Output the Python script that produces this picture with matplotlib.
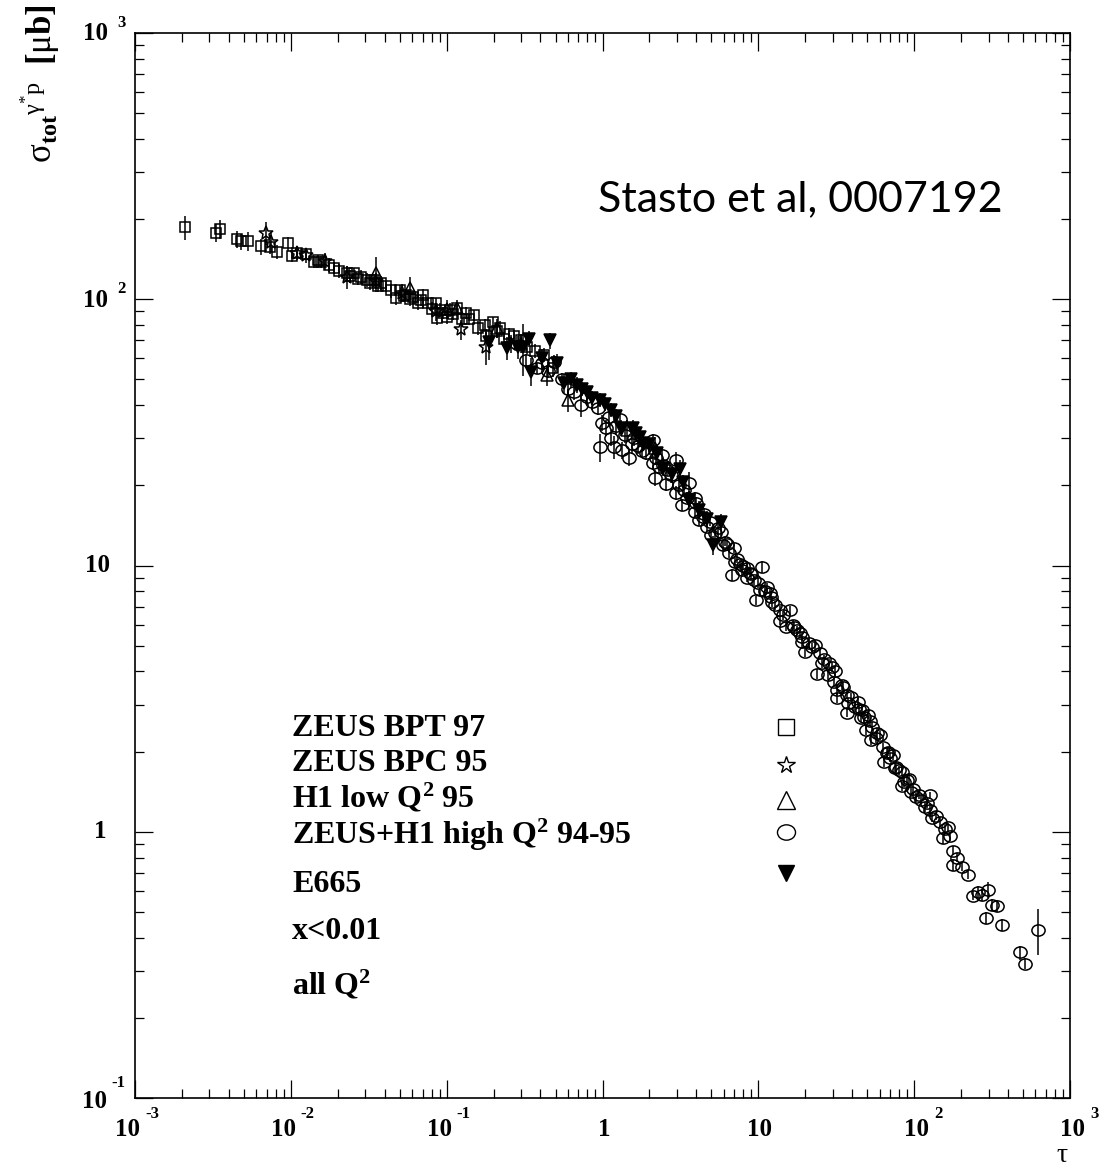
import numpy as np
import matplotlib
matplotlib.use("Agg")
import matplotlib.pyplot as plt
from matplotlib.path import Path
from matplotlib.transforms import Affine2D
from matplotlib.ticker import LogLocator, NullFormatter

# ---------------------------------------------------------------- data
# ZEUS BPT 97
tau_bpt = [0.0021, 0.0033, 0.0035, 0.0045, 0.0048, 0.0053, 0.0064, 0.0073, 0.0082, 0.0096,
           0.0102, 0.0110, 0.0126, 0.0140, 0.0157, 0.0177, 0.0205, 0.0228, 0.0256, 0.0283,
           0.0306, 0.0320, 0.0340, 0.0380, 0.0410, 0.0440, 0.0470, 0.0500, 0.0550, 0.0580,
           0.0610, 0.0650, 0.0700, 0.0760, 0.0800, 0.0860, 0.0870, 0.0900, 0.0950, 0.1000,
           0.1100, 0.1170, 0.1250, 0.1340, 0.1500, 0.1600, 0.1750, 0.1780, 0.1970, 0.2100,
           0.2350, 0.2500, 0.2700, 0.3000, 0.3300, 0.3700, 0.4200, 0.4800,
           0.0150, 0.0190, 0.0240, 0.0270, 0.0360, 0.0530, 0.0680, 0.1050, 0.1400, 0.2200]
sig_bpt = [186, 178, 183, 168, 165, 165, 158, 157, 151, 162,
           145, 149, 148, 138, 138, 135, 128, 126, 125, 121,
           118, 115, 118, 115, 112, 108, 101, 108, 104, 100,
           102, 97, 104, 96.5, 92, 96.5, 85, 91, 89, 86,
           88, 93, 84, 89, 87, 78, 80, 73, 82, 76,
           71, 74, 73, 70, 66, 64, 62, 55,
           140, 131, 122, 119, 112, 103, 99, 91, 84, 78]
err_bpt = [0.10, 0.08, 0.08, 0.07, 0.07, 0.08, 0.07, 0.06, 0.06, 0.06,
           0.05, 0.05, 0.05, 0.05, 0.05, 0.06, 0.06, 0.06, 0.05, 0.06,
           0.06, 0.06, 0.05, 0.06, 0.05, 0.06, 0.06, 0.05, 0.05, 0.06,
           0.06, 0.06, 0.05, 0.05, 0.06, 0.05, 0.06, 0.06, 0.05, 0.06,
           0.05, 0.05, 0.06, 0.05, 0.05, 0.06, 0.05, 0.06, 0.05, 0.06,
           0.06, 0.05, 0.05, 0.06, 0.06, 0.06, 0.06, 0.07,
           0.05, 0.05, 0.06, 0.05, 0.05, 0.05, 0.05, 0.06, 0.05, 0.06]

# ZEUS BPC 95
tau_bpc = [0.0069, 0.0075, 0.0110, 0.0126, 0.0165, 0.0230, 0.0350, 0.0520, 0.0850, 0.1240,
           0.1780, 0.2600]
sig_bpc = [177, 164, 149, 146, 139, 121, 117, 106, 90, 77, 66, 68]
err_bpc = [0.10, 0.08, 0.06, 0.06, 0.07, 0.10, 0.07, 0.08, 0.08, 0.09, 0.14, 0.08]

# H1 low Q^2 95
tau_h1 = [0.035, 0.058, 0.100, 0.117, 0.210, 0.300, 0.440, 0.600, 1.43, 2.16]
sig_h1 = [125, 110, 92, 93, 78, 68, 52, 42, 32.2, 27.6]
err_h1 = [0.15, 0.10, 0.08, 0.07, 0.08, 0.08, 0.09, 0.10, 0.09, 0.10]

# ZEUS+H1 high Q^2 94-95
tau_hq = [0.325, 0.38, 0.41, 0.49, 0.55, 0.60, 0.73, 0.85, 0.93, 0.96,
          0.99, 1.06, 1.14, 1.19, 1.29, 1.34, 1.49, 1.60, 1.70, 2.10,
          2.10, 2.16, 2.22, 2.30, 2.40, 2.57, 2.60, 2.98, 2.98, 3.26,
          3.46, 3.61, 3.90, 3.90, 4.19, 4.40, 4.65, 4.86, 5.00, 5.30,
          5.80, 5.90, 6.10, 6.50, 6.80, 7.00, 7.10, 7.30, 7.80, 8.00,
          8.40, 8.50, 9.00, 9.40, 9.70, 10.0, 10.2, 10.6, 11.0, 11.3,
          11.8, 12.3, 12.8, 13.7, 13.7, 14.5, 15.1, 15.9, 16.6, 17.0,
          17.8, 18.5, 19.0, 19.2, 19.8, 21.0, 22.0, 23.2, 23.9, 24.7,
          25.5, 26.5, 27.8, 28.5, 29.5, 30.7, 31.0, 32.1, 32.1, 34.6,
          35.0, 36.8, 36.8, 37.5, 39.5, 41.5, 43.5, 44.0, 45.8, 46.5,
          48.0, 49.4, 50.2, 52.0, 53.0, 54.0, 57.1, 58.0, 60.0, 62.9,
          64.5, 66.5, 68.0, 70.0, 72.7, 75.0, 77.0, 80.0, 83.0, 84.0,
          86.0, 89.5, 93.0, 96.0, 99.0, 103, 108, 111, 117, 120,
          126, 126, 131, 138, 146, 152, 158, 164, 169, 177,
          177, 189, 204, 220, 237, 255, 273, 290, 299, 317,
          342, 368, 475, 511, 620,
          0.45, 0.66, 0.80, 1.10, 1.22, 1.40, 1.55, 1.80, 1.90, 2.45,
          2.75, 3.10, 3.35, 4.00, 4.50, 5.50, 6.30, 7.60, 8.80, 12.0]
sig_hq = [59, 55, 57.5, 58, 50, 46, 40, 41, 39, 27.9,
          34.4, 32.9, 30.2, 27.9, 35.6, 27.1, 25.4, 30, 28, 29.6,
          24.3, 21.4, 25.4, 23.5, 26, 20.3, 22.8, 24.9, 18.7, 16.9,
          18.0, 20.4, 18.0, 15.9, 14.8, 15.2, 14.0, 14.6, 13.0, 13.2,
          13.4, 11.9, 12.3, 11.1, 9.2, 11.6, 10.3, 10.6, 9.6, 10.0,
          9.8, 9.0, 9.3, 8.8, 7.4, 8.6, 8.1, 9.9, 8.0, 8.3,
          7.9, 7.3, 7.1, 6.8, 6.2, 6.5, 5.9, 6.8, 6.0, 5.9,
          5.7, 5.6, 5.16, 5.4, 4.73, 5.1, 4.94, 5.03, 3.92, 4.7,
          4.3, 4.45, 3.88, 4.3, 4.16, 3.65, 4.0, 3.41, 3.18, 3.56,
          3.5, 3.27, 2.8, 3.05, 3.2, 2.94, 3.07, 2.9, 2.68, 2.87,
          2.7, 2.41, 2.75, 2.6, 2.21, 2.48, 2.25, 2.35, 2.3, 2.08,
          1.83, 1.98, 2.0, 1.9, 1.94, 1.74, 1.75, 1.7, 1.68, 1.48,
          1.54, 1.57, 1.58, 1.41, 1.45, 1.35, 1.38, 1.32, 1.24, 1.28,
          1.37, 1.21, 1.13, 1.15, 1.09, 0.95, 1.02, 1.04, 0.96, 0.85,
          0.75, 0.80, 0.74, 0.69, 0.575, 0.595, 0.58, 0.476, 0.606, 0.532,
          0.527, 0.448, 0.352, 0.32, 0.429,
          54, 45, 43, 36, 33.5, 31, 28.5, 27, 26.5, 23.8,
          21.8, 20.0, 19.2, 17.2, 15.6, 13.8, 12.0, 10.1, 9.4, 7.6]
err_hq = [0.06, 0.05, 0.06, 0.06, 0.06, 0.06, 0.10, 0.06, 0.06, 0.12,
          0.07, 0.07, 0.07, 0.10, 0.06, 0.07, 0.07, 0.06, 0.06, 0.05,
          0.06, 0.07, 0.06, 0.05, 0.05, 0.06, 0.05, 0.07, 0.06, 0.05,
          0.05, 0.10, 0.05, 0.05, 0.05, 0.04, 0.04, 0.04, 0.04, 0.04,
          0.04, 0.05, 0.04, 0.04, 0.05, 0.04, 0.04, 0.04, 0.04, 0.04,
          0.04, 0.04, 0.04, 0.04, 0.04, 0.04, 0.04, 0.05, 0.04, 0.04,
          0.04, 0.04, 0.04, 0.04, 0.04, 0.04, 0.04, 0.04, 0.04, 0.04,
          0.04, 0.04, 0.04, 0.04, 0.04, 0.04, 0.04, 0.04, 0.04, 0.04,
          0.04, 0.04, 0.04, 0.04, 0.04, 0.04, 0.04, 0.04, 0.04, 0.04,
          0.04, 0.04, 0.04, 0.04, 0.04, 0.04, 0.04, 0.04, 0.04, 0.04,
          0.04, 0.04, 0.04, 0.04, 0.04, 0.04, 0.04, 0.04, 0.04, 0.04,
          0.04, 0.04, 0.04, 0.04, 0.04, 0.04, 0.04, 0.04, 0.04, 0.04,
          0.04, 0.04, 0.04, 0.04, 0.04, 0.04, 0.04, 0.04, 0.04, 0.04,
          0.03, 0.05, 0.04, 0.04, 0.04, 0.05, 0.04, 0.04, 0.04, 0.04,
          0.05, 0.04, 0.04, 0.04, 0.04, 0.05, 0.05, 0.05, 0.07, 0.05,
          0.05, 0.05, 0.06, 0.05, 0.20,
          0.06, 0.07, 0.07, 0.08, 0.08, 0.07, 0.07, 0.06, 0.06, 0.06,
          0.06, 0.06, 0.05, 0.05, 0.05, 0.05, 0.04, 0.04, 0.04, 0.04]

# E665
tau_e665 = [0.188, 0.245, 0.285, 0.310, 0.340, 0.350, 0.410, 0.457, 0.510, 0.570,
            0.630, 0.690, 0.790, 0.860, 0.960, 1.030, 1.140, 1.320, 1.560, 1.730,
            1.810, 2.000, 2.430, 2.800, 3.120, 3.300, 3.610, 4.190, 5.100, 5.800,
            0.740, 1.220, 1.650, 2.250, 4.700]
sig_e665 = [69, 65.5, 66, 66, 71, 53.5, 60, 70, 57.5, 48.5,
            50, 47.6, 44.7, 42.5, 41.8, 40.5, 38.3, 32.9, 32.9, 30.3,
            28.8, 28.5, 23.3, 22.0, 23.1, 20.5, 17.6, 16.2, 11.9, 14.6,
            46, 36.5, 31.5, 26.5, 15.0]
err_e665 = [0.14, 0.10, 0.10, 0.22, 0.07, 0.12, 0.08, 0.07, 0.08, 0.08,
            0.07, 0.07, 0.06, 0.06, 0.06, 0.06, 0.06, 0.07, 0.07, 0.07,
            0.06, 0.06, 0.07, 0.07, 0.08, 0.07, 0.08, 0.08, 0.08, 0.07,
            0.06, 0.06, 0.07, 0.07, 0.07]

legend_labels = ["ZEUS BPT 97", "ZEUS BPC 95", r"H1 low Q$^{\mathbf{2}}$ 95",
                 r"ZEUS+H1 high Q$^{\mathbf{2}}$ 94-95", "E665"]
extra_labels = ["x<0.01", r"all Q$^{\mathbf{2}}$"]

x_exponents = [-3, -2, -1, 0, 1, 2, 3]
y_exponents = [-1, 0, 1, 2, 3]

# ---------------------------------------------------------------- style
plt.rcParams["mathtext.fontset"] = "custom"
plt.rcParams["mathtext.rm"] = "Liberation Serif"
plt.rcParams["mathtext.it"] = "Liberation Serif:italic"
plt.rcParams["mathtext.bf"] = "Liberation Serif:bold"
SERIF = "Liberation Serif"

W, H = 1115, 1166
fig = plt.figure(figsize=(W / 100, H / 100), dpi=100)
ax = fig.add_axes([135 / W, 68 / H, 935 / W, 1065 / H])
ax.set_xscale("log")
ax.set_yscale("log")
ax.set_xlim(1e-3, 1e3)
ax.set_ylim(1e-1, 1e3)

for s in ax.spines.values():
    s.set_linewidth(1.2)

for axis in (ax.xaxis, ax.yaxis):
    axis.set_major_locator(LogLocator(base=10, numticks=20))
    axis.set_minor_locator(LogLocator(base=10, subs=np.arange(2, 10), numticks=100))
    axis.set_minor_formatter(NullFormatter())
ax.tick_params(which="both", direction="in", top=True, right=True,
               labelbottom=False, labelleft=False, width=0.9, color="black")
ax.tick_params(which="major", length=13)
ax.tick_params(which="minor", length=6.5)

oval = Path.unit_circle().transformed(Affine2D().scale(1.0, 0.85))

series = [
    (tau_bpt, sig_bpt, err_bpt, "s", "none", 7.5),
    (tau_bpc, sig_bpc, err_bpc, "*", "none", 10.0),
    (tau_h1, sig_h1, err_h1, "^", "none", 8.5),
    (tau_hq, sig_hq, err_hq, oval, "none", 9.5),
    (tau_e665, sig_e665, err_e665, "v", "black", 8.5),
]
for tau, sig, frac, mk, fc, ms in series:
    sig = np.asarray(sig, dtype=float)
    yerr = sig * np.asarray(frac)
    ax.errorbar(tau, sig, yerr=yerr, fmt="none", ecolor="black", elinewidth=1.1, capsize=0)
    ax.plot(tau, sig, linestyle="none", marker=mk, markersize=ms, markerfacecolor=fc,
            markeredgecolor="black", markeredgewidth=1.1)

# ---------------------------------------------------------------- tick labels
PX = 0.72  # points per pixel
lab_kw = dict(fontsize=18, fontweight="bold", family=SERIF)
exp_kw = dict(fontsize=12, fontweight="bold", family=SERIF)

for e in x_exponents:
    v = 10.0 ** e
    if e == 0:
        ax.annotate("1", (v, 0), xycoords=("data", "axes fraction"),
                    xytext=(2 * PX, -32 * PX), textcoords="offset points",
                    ha="center", va="center", **lab_kw)
    elif e == 1:
        ax.annotate("10", (v, 0), xycoords=("data", "axes fraction"),
                    xytext=(1 * PX, -32 * PX), textcoords="offset points",
                    ha="center", va="center", **lab_kw)
    else:
        right = 5 if e < 0 else 15
        ax.annotate("10", (v, 0), xycoords=("data", "axes fraction"),
                    xytext=(right * PX, -32 * PX), textcoords="offset points",
                    ha="right", va="center", **lab_kw)
        ax.annotate(f"{e}", (v, 0), xycoords=("data", "axes fraction"),
                    xytext=((right + 5) * PX, -16 * PX), textcoords="offset points",
                    ha="left", va="center", **exp_kw)

for e in y_exponents:
    v = 10.0 ** e
    if e == 0:
        ax.annotate("1", (0, v), xycoords=("axes fraction", "data"),
                    xytext=(-28 * PX, 0), textcoords="offset points",
                    ha="right", va="center", **lab_kw)
    elif e == 1:
        ax.annotate("10", (0, v), xycoords=("axes fraction", "data"),
                    xytext=(-25 * PX, 0), textcoords="offset points",
                    ha="right", va="center", **lab_kw)
    else:
        right = -28 if e < 0 else -27
        dy = -4 if e < 0 else -1
        ax.annotate("10", (0, v), xycoords=("axes fraction", "data"),
                    xytext=(right * PX, dy * PX), textcoords="offset points",
                    ha="right", va="center", **lab_kw)
        ax.annotate(f"{e}", (0, v), xycoords=("axes fraction", "data"),
                    xytext=((-24 if e < 0 else -18) * PX, (15 if e < 0 else 10) * PX),
                    textcoords="offset points", ha="left", va="center", **exp_kw)

# ---------------------------------------------------------------- axis titles
fig.text(40 / W, 1 - 4 / H,
         r"$\mathrm{σ}_{\mathbf{tot}}{}^{\mathrm{γ}^{*}\mathrm{p}}\ \ \mathbf{[\mathrm{μ}b]}$",
         rotation=90, ha="center", va="top", fontsize=25)
fig.text(1062 / W, 1 - 1162 / H, "τ", ha="center", va="baseline", fontsize=20, family=SERIF)

fig.text(598 / W, 1 - 199 / H, "Stasto et al, 0007192", ha="left", va="center",
         fontsize=31, family="Lato")

# ---------------------------------------------------------------- legend block
text_x = (292 - 135) / 935
baselines = [736, 771, 807, 844, 892, 939, 994]
for lbl, yb in zip(legend_labels + extra_labels, baselines):
    ax.text(text_x, (1098 - yb) / 1065, lbl, transform=ax.transAxes, ha="left",
            va="baseline", fontsize=23, fontweight="bold", family=SERIF)

mark_x = (786 - 135) / 935
mark_y = [727, 765, 800, 832, 873]
legend_markers = [("s", "none", 12), ("*", "none", 13), ("^", "none", 13),
                  (oval, "none", 13), ("v", "black", 11)]
for (mk, fc, ms), yp in zip(legend_markers, mark_y):
    ax.plot([mark_x], [(1098 - yp) / 1065], transform=ax.transAxes, linestyle="none",
            marker=mk, markersize=ms, markerfacecolor=fc, markeredgecolor="black",
            markeredgewidth=1.0, clip_on=False)

fig.savefig("out.png", dpi=100)
